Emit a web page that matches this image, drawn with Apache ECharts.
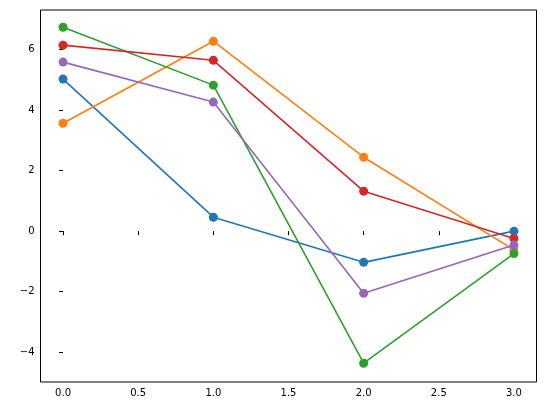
<!DOCTYPE html>
<html><head><meta charset="utf-8">
<script src="https://cdn.jsdelivr.net/npm/echarts@6/dist/echarts.min.js"></script>
<style>html,body{margin:0;padding:0;background:#fff}#c{width:546px;height:413px}</style>
</head><body><div id="c"></div>
<script>
const xs = [0, 1, 2, 3];
const blue = [5.02, 0.46, -1.03, 0.0];
const orange = [3.56, 6.27, 2.44, -0.62];
const green = [6.73, 4.82, -4.36, -0.74];
const red = [6.14, 5.64, 1.32, -0.24];
const purple = [5.58, 4.26, -2.05, -0.46];
const xTicks = [0, 0.5, 1, 1.5, 2, 2.5, 3];
const yTicks = [-4, -2, 0, 2, 4, 6];
const colors = ['#1f77b4', '#ff7f0e', '#2ca02c', '#d62728', '#9467bd'];
const all = [blue, orange, green, red, purple];
const chart = echarts.init(document.getElementById('c'));
const lab = {color: '#000', fontFamily: 'DejaVu Sans', fontSize: 10};
chart.setOption({
  animation: false,
  grid: {left: 40.5, right: 9.5, top: 10, bottom: 31, show: true, borderColor: '#000', borderWidth: 1, containLabel: false},
  xAxis: {type: 'value', min: -0.15, max: 3.15,
    axisLine: {show: false}, splitLine: {show: false},
    axisTick: {show: true, inside: false, length: 4, lineStyle: {color: '#000'}, customValues: xTicks},
    axisLabel: Object.assign({customValues: xTicks, formatter: v => v.toFixed(1), margin: 6}, lab)},
  yAxis: {type: 'value', min: -4.98, max: 7.3,
    axisLine: {show: false}, splitLine: {show: false},
    axisTick: {show: true, inside: false, length: 4, lineStyle: {color: '#000'}, customValues: yTicks},
    axisLabel: Object.assign({customValues: yTicks, formatter: v => (v < 0 ? '\u2212' + (-v) : '' + v), margin: 6}, lab)},
  series: all.map((d, i) => ({
    type: 'line', data: xs.map((x, j) => [x, d[j]]),
    symbol: 'circle', symbolSize: 9, showAllSymbol: true,
    lineStyle: {color: colors[i], width: 1.6}, itemStyle: {color: colors[i]}
  }))
});
</script></body></html>
